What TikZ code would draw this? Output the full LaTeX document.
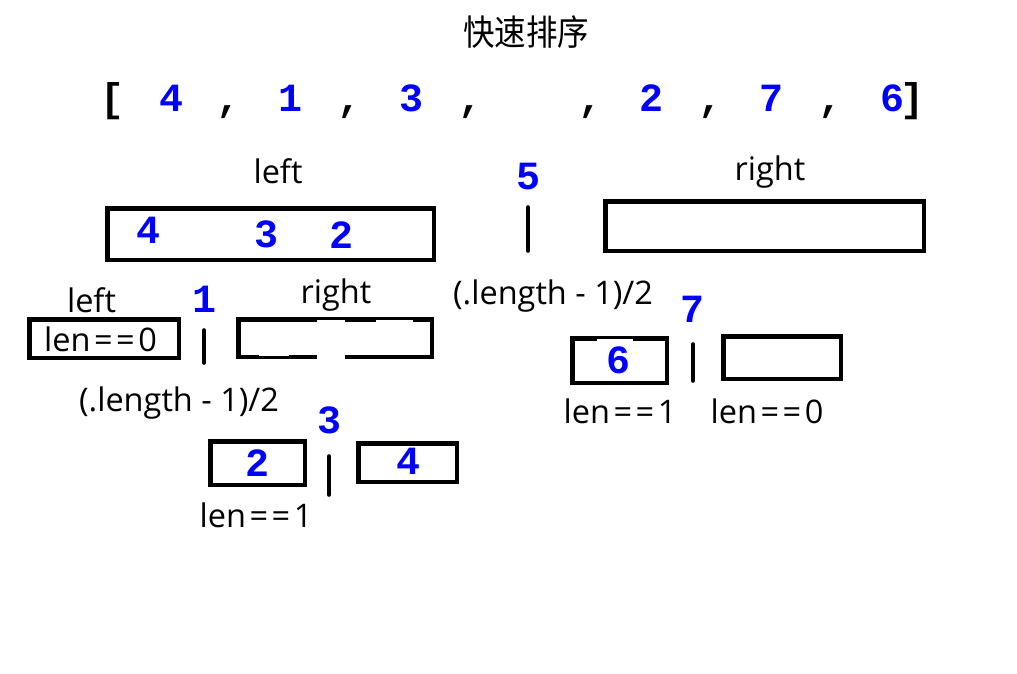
\documentclass[tikz,border=0pt]{standalone}
\usepackage{fontspec}
\setmainfont{Open Sans}
\newfontfamily\cjkfont{Noto Sans CJK SC}
\newfontfamily\monofont{Liberation Mono}
\newcommand\myeq{\kern3.5pt=\kern3.5pt=\kern3.5pt}
\tikzset{
  box/.style={draw, line width=4.5pt, inner sep=0pt, outer sep=0pt},
  lbl/.style={anchor=base, inner sep=0pt, font=\fontsize{32.5}{32.5}\selectfont},
  num/.style={anchor=base, inner sep=0pt, text=blue, font=\monofont\bfseries\fontsize{40}{40}\selectfont},
  pun/.style={num, text=black},
  bar/.style={line width=4.7pt, line cap=round},
  patch/.style={fill=white, draw=none}
}
\begin{document}
\begin{tikzpicture}[x=1pt,y=-1pt]
\fill[white] (0,0) rectangle (1017,674);
\path[use as bounding box] (0,0) rectangle (1017,674);

% title
\node[anchor=base, inner sep=0pt, font=\cjkfont\fontsize{31.5}{31.5}\selectfont, yscale=1.12] (title) at (526,46) {快速排序};

% array row
\node[pun] (ob) at (113,112) {[};
\node[num] (a1) at (171.5,112) {4};
\node[pun] (c1) at (228,112) {,};
\node[num] (a2) at (290.5,112) {1};
\node[pun] (c2) at (349,112) {,};
\node[num] (a3) at (411,112) {3};
\node[pun] (c3) at (470,112) {,};
\node[pun] (c4) at (590,112) {,};
\node[num] (a5) at (651,112) {2};
\node[pun] (c5) at (710,112) {,};
\node[num] (a6) at (771,112) {7};
\node[pun] (c6) at (830,112) {,};
\node[num] (a7) at (892.5,112) {6};
\node[pun] (cb) at (912,112) {]};

% level 1
\node[lbl] (l1left) at (278,183) {left};
\node[box, minimum width=326.5pt, minimum height=51.5pt] (boxL) at (270.5,234) {};
\node[num] (bl4) at (148.5,243) {4};
\node[num] (bl3) at (266.5,247) {3};
\node[num] (bl2) at (341.5,248) {2};
\node[num] (p5) at (528,189) {5};
\coordinate (b5t) at (528,207.5);
\coordinate (b5b) at (528,250.5);
\draw[bar] (b5t) -- (b5b);
\node[lbl] (l1right) at (770,180) {right};
\node[box, minimum width=318.5pt, minimum height=49.5pt] (boxR) at (764.5,226) {};
\node[lbl] (mid1) at (553,304) {(.length - 1)/2};

% level 2 left
\node[lbl] (l2left) at (91.5,312) {left};
\node[box, minimum width=149.5pt, minimum height=38.5pt] (boxLL) at (104,338.5) {};
\node[lbl] (t0a) at (100.5,351) {len\myeq0};
\node[num] (p1) at (204,312) {1};
\coordinate (b1t) at (204,330.5);
\coordinate (b1b) at (204,362.5);
\draw[bar] (b1t) -- (b1b);
\node[lbl] (l2right) at (336,303) {right};
\node[box, minimum width=193.5pt, minimum height=37.5pt] (boxLR) at (335,338) {};
\fill[patch] (317,320) rectangle (345,321.6);
\fill[patch] (376,320) rectangle (413,321.6);
\fill[patch] (259,354.4) rectangle (289,356);
\fill[patch] (317,354.4) rectangle (345,359.5);
\node[lbl] (mid2) at (179,411) {(.length - 1)/2};

% level 3
\node[num] (p3) at (329,433) {3};
\node[box, minimum width=94.5pt, minimum height=43.5pt] (box2) at (257.5,463) {};
\node[num] (t2) at (257,476) {2};
\coordinate (b3t) at (329,456.5);
\coordinate (b3b) at (329,494.5);
\draw[bar] (b3t) -- (b3b);
\node[box, minimum width=98.5pt, minimum height=38.5pt] (box4) at (407.5,462.5) {};
\node[num] (t4) at (408,474) {4};
\node[lbl] (t1a) at (256,527) {len\myeq1};

% level 2 right
\node[num] (p7) at (692.5,322) {7};
\node[box, minimum width=94.5pt, minimum height=44.5pt] (box6) at (619.5,360.5) {};
\fill[patch] (597,339) rectangle (633,340.6);
\node[num] (t6) at (618,373) {6};
\coordinate (b7t) at (693,344.5);
\coordinate (b7b) at (693,380.5);
\draw[bar] (b7t) -- (b7b);
\node[box, minimum width=117.5pt, minimum height=42.5pt] (boxE) at (782,357.5) {};
\node[lbl] (t1b) at (620,423) {len\myeq1};
\node[lbl] (t0b) at (767,423) {len\myeq0};
\end{tikzpicture}
\end{document}
